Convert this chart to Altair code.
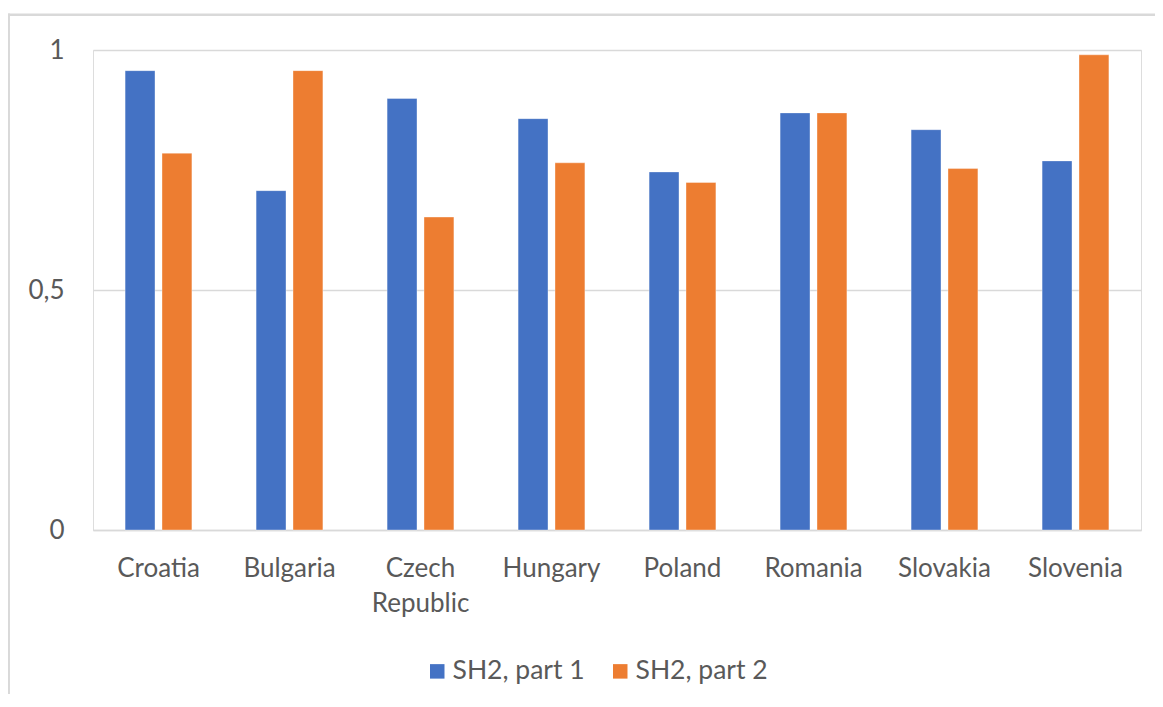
import altair as alt
import pandas as pd

countries = ["Croatia", "Bulgaria", "Czech Republic", "Hungary", "Poland", "Romania", "Slovakia", "Slovenia"]
series_names = ["SH2, part 1", "SH2, part 2"]
part1 = [0.957, 0.707, 0.899, 0.857, 0.746, 0.869, 0.834, 0.769]
part2 = [0.785, 0.957, 0.652, 0.765, 0.724, 0.869, 0.753, 0.990]
y_ticks = [0, 0.5, 1]
colors = ["#4472C4", "#ED7D31"]

rows = []
for c, a, b in zip(countries, part1, part2):
    rows.append({"country": c, "series": series_names[0], "value": a})
    rows.append({"country": c, "series": series_names[1], "value": b})
df = pd.DataFrame(rows)

FONT = "Lato"
TXT = "#595959"
GRID = "#D9D9D9"

bars = alt.Chart(df).mark_bar(stroke="white", strokeWidth=0.6, strokeOpacity=0.6).encode(
    x=alt.X("country:N", sort=countries,
            scale=alt.Scale(paddingInner=0.49, paddingOuter=0.245),
            axis=alt.Axis(title=None, labelAngle=0, ticks=False, domain=True,
                          domainColor=GRID, domainWidth=1.5, grid=False,
                          labelFont=FONT, labelFontSize=26, labelColor=TXT,
                          labelPadding=25, labelLineHeight=35,
                          labelExpr="split(datum.label, ' ')")),
    xOffset=alt.XOffset("series:N", sort=series_names,
                        scale=alt.Scale(paddingInner=0.19, paddingOuter=0)),
    y=alt.Y("value:Q", scale=alt.Scale(domain=[0, 1], nice=False),
            axis=alt.Axis(title=None, values=y_ticks, ticks=False, domain=False,
                          grid=True, gridColor=GRID, gridWidth=1.5,
                          labelFont=FONT, labelFontSize=26, labelColor=TXT,
                          labelPadding=29,
                          labelExpr="replace(format(datum.value, '~g'), '.', ',')")),
    color=alt.Color("series:N", sort=series_names,
                    scale=alt.Scale(domain=series_names, range=colors),
                    legend=alt.Legend(title=None, orient="none", direction="horizontal",
                                      legendX=331, legendY=608,
                                      symbolType="square", symbolSize=210,
                                      symbolStrokeWidth=0, labelOffset=2,
                                      columnPadding=22, padding=0,
                                      labelFont=FONT, labelFontSize=26.5, labelColor=TXT)),
)

frame = pd.DataFrame({"k": [0]})
left_border = alt.Chart(frame).mark_rule(color=GRID, strokeWidth=2.5).encode(
    x=alt.value(-84.3), y=alt.value(-36.5), y2=alt.value(700))
top_border = alt.Chart(frame).mark_rule(color=GRID, strokeWidth=2.5).encode(
    x=alt.value(-85.5), x2=alt.value(1100), y=alt.value(-35.3))

chart = alt.layer(left_border, top_border, bars).properties(
    width=1048, height=480,
    padding={"left": 85, "top": 42, "right": 14, "bottom": 164},
    autosize=alt.AutoSizeParams(type="none"),
).configure_view(stroke=None).configure(background="white")

chart.save("out.html", embed_options={"renderer": "svg", "actions": False})
